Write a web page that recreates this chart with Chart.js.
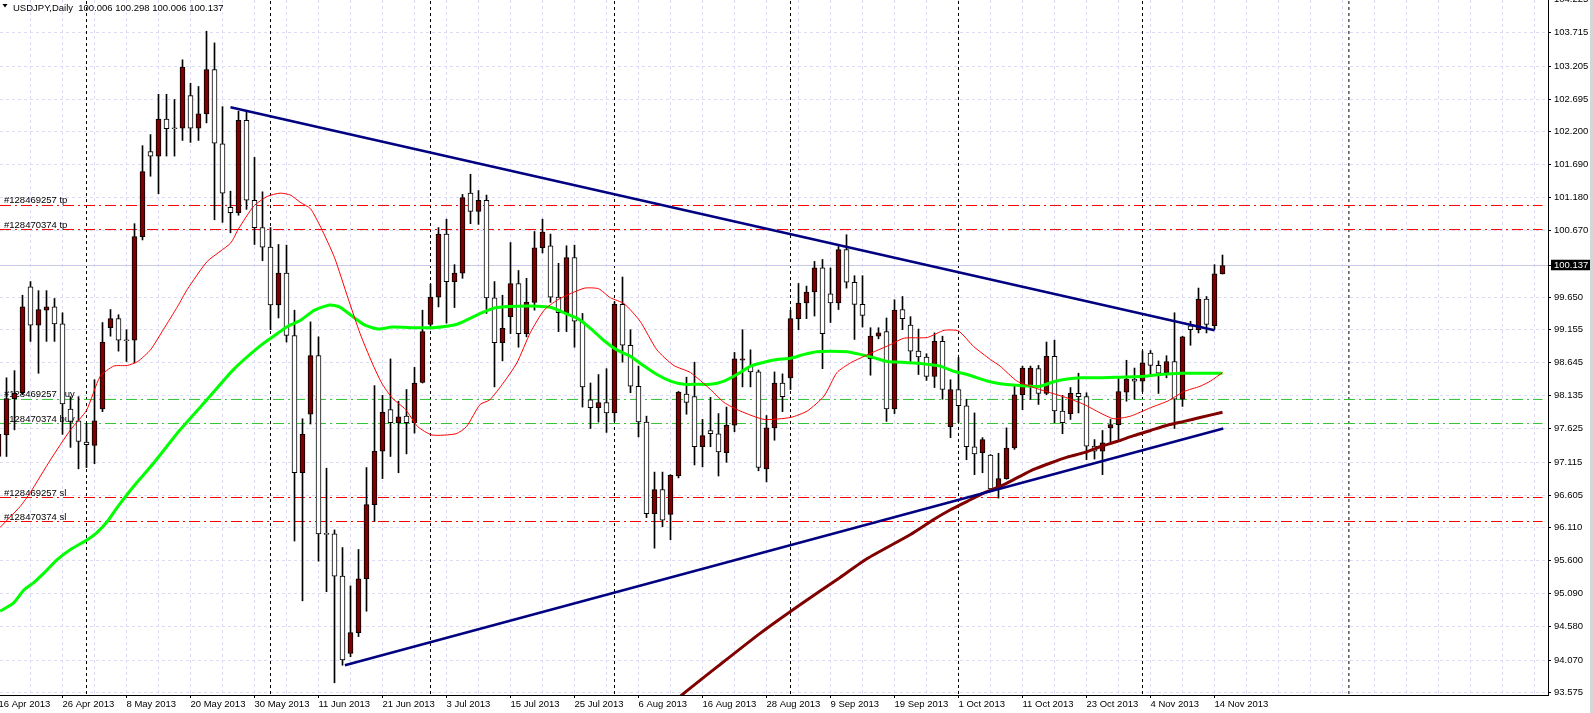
<!DOCTYPE html>
<html>
<head>
<meta charset="utf-8">
<script src="https://cdn.jsdelivr.net/npm/chart.js@4.4.0/dist/chart.umd.min.js"></script>
<style>
  html, body { margin: 0; padding: 0; background: #fff; }
</style>
</head>
<body>
<canvas id="chart" width="1593" height="713"></canvas>
<script>
// USDJPY daily bars, 16 Apr 2013 .. 15 Nov 2013 (one bar per weekday)
var opens = [
  97.20, 97.53, 98.09, 98.18, 99.81, 99.22, 99.45, 99.50, 99.24, 97.93,
  97.75, 97.42, 97.37, 97.93, 99.18, 99.32, 98.99, 98.99, 100.58, 101.89,
  101.82, 102.39, 102.25, 102.25, 102.75, 102.25, 102.47, 103.15, 102.01, 101.03,
  100.95, 102.37, 101.14, 100.72, 100.42, 99.53, 100.02, 99.06, 96.95, 97.85,
  98.75, 96.02, 96.01, 95.36, 94.17, 94.49, 95.32, 96.46, 97.28, 97.92,
  97.72, 97.82, 97.72, 98.34, 99.23, 99.65, 100.62, 99.89, 100.02, 101.25,
  100.97, 101.14, 99.64, 98.95, 99.35, 99.86, 99.09, 99.57, 100.41, 100.44,
  99.65, 99.41, 100.26, 99.27, 98.07, 97.95, 98.03, 97.87, 99.54, 98.91,
  98.28, 97.73, 96.32, 96.69, 96.31, 96.90, 98.16, 98.12, 97.35, 97.60,
  97.55, 97.26, 97.68, 98.68, 98.59, 98.50, 97.01, 97.64, 98.33, 98.41,
  99.32, 99.56, 99.73, 100.10, 99.70, 99.56, 100.38, 99.88, 99.54, 98.70,
  99.05, 99.12, 97.93, 99.46, 99.22, 98.82, 98.73, 98.43, 98.97, 97.66,
  98.23, 97.98, 97.35, 97.26, 97.22, 96.70, 96.86, 97.33, 98.15, 98.28,
  98.55, 98.17, 98.74, 97.90, 97.86, 98.17, 98.12, 97.36, 97.28, 97.64,
  97.69, 98.19, 98.39, 98.36, 98.79, 98.60, 98.49, 98.66, 98.08, 99.21,
  99.15, 99.62, 99.21, 100.006
];
var highs = [
  97.80, 98.41, 98.52, 99.68, 99.89, 99.75, 99.75, 99.63, 99.41, 98.12,
  98.12, 97.71, 98.38, 99.26, 99.46, 99.38, 99.15, 100.78, 101.98, 102.15,
  102.77, 102.77, 102.69, 103.30, 102.94, 102.89, 103.74, 103.56, 102.58, 101.28,
  102.51, 102.51, 101.80, 101.27, 100.72, 100.46, 100.45, 99.45, 97.78, 99.27,
  99.04, 97.02, 96.07, 95.80, 95.21, 95.77, 97.03, 98.29, 98.14, 98.70,
  98.05, 98.23, 98.57, 99.45, 99.85, 100.72, 100.85, 100.15, 101.23, 101.54,
  101.29, 101.22, 99.89, 99.68, 100.49, 100.06, 99.94, 100.66, 100.85, 100.62,
  100.17, 100.44, 100.45, 99.40, 98.33, 98.46, 98.55, 99.58, 99.96, 99.15,
  98.59, 97.82, 96.96, 96.96, 96.92, 98.20, 98.42, 98.65, 97.77, 98.11,
  97.86, 97.96, 98.80, 99.15, 98.84, 98.53, 97.83, 98.50, 98.47, 99.45,
  99.86, 99.82, 100.20, 100.23, 100.10, 100.43, 100.61, 99.98, 99.98, 99.18,
  99.18, 99.33, 99.61, 99.66, 99.35, 99.16, 98.78, 99.10, 99.05, 98.38,
  98.72, 98.08, 97.87, 97.49, 97.23, 97.25, 97.64, 98.28, 98.59, 98.59,
  98.60, 98.96, 98.99, 98.14, 98.26, 98.48, 98.18, 97.46, 97.60, 97.77,
  98.41, 98.68, 98.56, 98.82, 98.83, 98.67, 98.75, 99.41, 99.05, 99.28,
  99.79, 99.66, 100.15, 100.298
];
var lows = [
  97.05, 97.20, 97.61, 98.15, 98.97, 98.48, 98.97, 98.97, 97.54, 97.34,
  97.01, 97.03, 97.09, 97.89, 99.05, 98.82, 98.66, 98.64, 100.53, 101.51,
  101.24, 101.82, 101.82, 102.06, 102.03, 102.06, 102.33, 100.84, 100.80, 100.64,
  100.91, 101.00, 100.46, 100.21, 99.15, 99.33, 98.96, 95.90, 94.98, 97.70,
  95.59, 95.12, 93.72, 93.99, 94.12, 94.43, 94.82, 96.20, 96.86, 97.20,
  96.95, 97.24, 97.56, 98.33, 99.16, 99.50, 99.25, 99.49, 99.94, 100.78,
  100.77, 99.40, 98.27, 98.67, 99.09, 98.88, 99.04, 99.45, 100.33, 99.57,
  99.12, 99.12, 98.88, 97.96, 97.63, 97.73, 97.57, 97.74, 98.65, 98.18,
  97.50, 96.26, 95.79, 96.12, 95.92, 96.87, 97.85, 97.07, 97.04, 97.35,
  96.90, 97.11, 97.58, 98.27, 98.27, 96.98, 96.81, 97.45, 97.89, 98.23,
  99.15, 99.32, 99.36, 98.55, 99.26, 99.46, 99.79, 99.00, 99.19, 98.45,
  99.01, 97.74, 97.86, 99.15, 98.66, 98.46, 98.37, 98.26, 98.08, 97.49,
  97.72, 97.15, 96.92, 96.95, 96.68, 96.56, 96.85, 97.31, 97.92, 98.08,
  98.00, 98.15, 97.72, 97.55, 97.77, 97.87, 97.15, 97.16, 96.92, 97.42,
  97.43, 98.05, 98.08, 98.20, 98.46, 98.17, 98.41, 97.63, 97.97, 98.91,
  99.10, 99.10, 99.15, 100.006
];
var closes = [
  97.54, 98.09, 98.17, 99.50, 99.22, 99.46, 99.50, 99.24, 98.01, 97.74,
  97.43, 97.38, 97.75, 98.96, 99.32, 98.99, 98.98, 100.58, 101.58, 101.82,
  102.39, 102.24, 102.24, 103.19, 102.25, 102.47, 103.15, 102.02, 101.25, 100.95,
  102.37, 101.14, 100.72, 100.42, 99.53, 100.02, 99.06, 96.95, 97.54, 98.75,
  96.01, 96.00, 95.36, 94.07, 94.49, 95.32, 96.46, 97.28, 97.88, 97.72,
  97.81, 97.72, 98.33, 99.12, 99.65, 100.62, 99.89, 100.02, 101.18, 100.97,
  101.14, 99.64, 98.95, 99.17, 99.86, 99.09, 99.57, 100.41, 100.65, 99.65,
  99.41, 100.26, 99.28, 98.27, 97.95, 98.03, 97.87, 99.54, 98.91, 98.28,
  97.73, 96.32, 96.69, 96.22, 96.91, 98.19, 98.03, 97.35, 97.52, 97.55,
  97.27, 97.68, 98.70, 98.70, 98.50, 97.03, 97.64, 98.33, 98.12, 99.32,
  99.56, 99.73, 100.10, 99.09, 99.56, 100.38, 99.88, 99.54, 99.37, 99.05,
  99.10, 97.93, 99.45, 99.32, 98.82, 98.73, 98.43, 98.97, 98.23, 98.23,
  97.98, 97.35, 97.24, 97.46, 96.70, 96.86, 97.33, 98.15, 98.56, 98.56,
  98.17, 98.74, 97.90, 97.72, 98.17, 98.12, 97.36, 97.28, 97.41, 97.69,
  98.20, 98.39, 98.36, 98.64, 98.60, 98.48, 98.66, 98.08, 99.04, 99.15,
  99.62, 99.23, 100.01, 100.137
];

// date labels, one every 8 bars starting at bar 0
var dateLabels = ['16 Apr 2013', '26 Apr 2013', '8 May 2013', '20 May 2013', '30 May 2013',
  '11 Jun 2013', '21 Jun 2013', '3 Jul 2013', '15 Jul 2013', '25 Jul 2013', '6 Aug 2013',
  '16 Aug 2013', '28 Aug 2013', '9 Sep 2013', '19 Sep 2013', '1 Oct 2013', '11 Oct 2013',
  '23 Oct 2013', '4 Nov 2013', '14 Nov 2013'];

var priceTicks = [93.575, 94.070, 94.580, 95.090, 95.600, 96.110, 96.605, 97.115, 97.625,
  98.135, 98.645, 99.155, 99.650, 100.670, 101.180, 101.690, 102.200, 102.695, 103.205,
  103.715, 104.225];
var bidPrice = 100.137;

// moving averages (bar index, price)
var fastMaIdx = [0.2, 2.7, 4, 6.5, 9, 11, 12.7, 14.4, 16.1, 17.4, 19, 20.6, 22.4, 23.6, 26.1,
  29, 30, 31.9, 33.6, 35.2, 36.5, 37.7, 39, 40.3, 42, 43.7, 45.2, 46.7, 47.9, 49.2, 50.9,
  52.4, 54.2, 57.2, 58.5, 60.2, 61.4, 63.1, 64.8, 66.5, 68.2, 69.9, 71.6, 73.3, 75, 76.5,
  78.2, 80.2, 82.3, 84.4, 86.5, 89, 90.7, 92.7, 95.7, 99, 101.1, 103.2, 104.8, 106.5, 108.2,
  109.8, 111.5, 113.2, 116.1, 118.2, 120, 121.9, 124, 125.2, 127.3, 129.4, 131.5, 133.6,
  135.7, 137.7, 139.4, 141.5, 144, 146.1, 148.2, 150.2, 151.5, 153];
var fastMaVal = [96.11, 96.43, 96.65, 97.15, 97.61, 97.91, 98.43, 98.59, 98.60, 98.66, 98.84,
  99.15, 99.51, 99.77, 100.20, 100.48, 100.70, 101.05, 101.20, 101.25, 101.22, 101.11, 101.01,
  100.72, 100.26, 99.63, 99.09, 98.64, 98.33, 98.10, 97.92, 97.66, 97.53, 97.55, 97.66, 98.00,
  98.07, 98.33, 98.64, 99.11, 99.45, 99.61, 99.71, 99.79, 99.78, 99.64, 99.55, 99.28, 98.84,
  98.60, 98.49, 98.23, 98.03, 97.90, 97.77, 97.80, 97.90, 98.13, 98.49, 98.64, 98.74, 98.83,
  98.92, 99.02, 99.03, 99.14, 99.13, 98.89, 98.69, 98.59, 98.36, 98.26, 98.18, 98.10, 98.00,
  97.87, 97.78, 97.82, 97.95, 98.05, 98.20, 98.28, 98.36, 98.49];

var midMaIdx = [0.2, 1.9, 3.2, 4.4, 5.7, 7.3, 9, 11.1, 12.3, 13.6, 14.8, 16.1, 17.3, 19.4, 22.7,
  26.1, 29.4, 32.7, 34.4, 36.1, 37.7, 39.5, 41.4, 42.6, 44.3, 45.8, 47.5, 49.2, 52.1, 54.3,
  57.2, 58.9, 60.6, 62.3, 64.8, 67.4, 69.1, 70.7, 72.4, 74.1, 75.7, 77.3, 79, 80.7, 82.3, 84,
  85.7, 87.3, 89, 90.7, 92.3, 94, 95.7, 97.3, 99, 100.7, 102.3, 104, 106.1, 107.7, 109.4,
  111.1, 112.7, 115.2, 117.7, 119.4, 121.1, 123.6, 125.2, 127.7, 130.2, 131.9, 133.6, 135.2,
  137.7, 140.2, 142.7, 145.2, 147.7, 150.2, 153];
var midMaVal = [94.82, 94.95, 95.15, 95.26, 95.41, 95.61, 95.77, 95.92, 96.03, 96.20, 96.41,
  96.62, 96.80, 97.10, 97.61, 98.08, 98.54, 98.90, 99.05, 99.20, 99.29, 99.45, 99.53, 99.50,
  99.35, 99.22, 99.16, 99.19, 99.18, 99.18, 99.23, 99.32, 99.42, 99.49, 99.51, 99.51, 99.49,
  99.41, 99.32, 99.16, 98.98, 98.84, 98.74, 98.59, 98.46, 98.36, 98.31, 98.31, 98.31, 98.36,
  98.46, 98.59, 98.65, 98.69, 98.71, 98.77, 98.81, 98.82, 98.81, 98.77, 98.72, 98.66, 98.65,
  98.63, 98.59, 98.51, 98.46, 98.36, 98.32, 98.29, 98.28, 98.35, 98.39, 98.41, 98.41, 98.42,
  98.43, 98.46, 98.48, 98.48, 98.48];

var slowMaIdx = [82.7, 85.2, 90.2, 95.2, 100.2, 105.2, 108.6, 114, 116.9, 119, 121.1, 123.2,
  125.2, 127.3, 129.4, 131.5, 133.6, 135.7, 137.7, 139.8, 141.9, 144, 146.1, 148.2, 150.2, 153];
var slowMaVal = [93.23, 93.51, 94.00, 94.48, 94.92, 95.34, 95.63, 96.00, 96.23, 96.38, 96.51,
  96.64, 96.74, 96.87, 97.00, 97.10, 97.19, 97.26, 97.35, 97.43, 97.52, 97.60, 97.68, 97.74,
  97.80, 97.88];

// trend lines: [bar index, price]
var upperTrend = [[29, 102.57], [152, 99.14]];
var lowerTrend = [[43.3, 93.99], [153.1, 97.63]];

// open orders
var orderLevels = [101.060, 100.690, 98.077, 97.707, 96.569, 96.200];
var orderNames = ['#128469257 tp', '#128470374 tp', '#128469257 buy', '#128470374 buy',
  '#128469257 sl', '#128470374 sl'];
var orderColors = ['#ff0000', '#ff0000', '#35c435', '#35c435', '#ff0000', '#ff0000'];

// first bar of each month (period separators)
var monthStarts = [11, 34, 54, 77, 99, 120, 143, 168.8];

var xMin = 0.1875, xMax = 193.6875;
var yMin = 93.532, yMax = 104.220;
var FONT = '"Liberation Sans", Arial, sans-serif';

Chart.defaults.font.family = FONT;
Chart.defaults.font.size = 9.5;
Chart.defaults.color = '#000';

function pts(xs, ys) {
  return xs.map(function (x, k) { return { x: x, y: ys[k] }; });
}
function dateAt(v) {
  if (v % 8 !== 0) return '';
  return dateLabels[v / 8] || '';
}

var wickData = highs.map(function (h, i) { return { x: i, y: [lows[i], h] }; });
var bodyData = opens.map(function (o, i) { return { x: i, y: [o, closes[i]] }; });
var bodyColors = opens.map(function (o, i) { return closes[i] > o ? '#800000' : '#ffffff'; });

var sepData = [];
monthStarts.forEach(function (m) {
  sepData.push({ x: m, y: yMin - 1 }, { x: m, y: yMax + 1 }, { x: m + 0.01, y: null });
});

var datasets = [];
datasets.push({
  type: 'line', data: sepData, borderColor: '#000', borderWidth: 1, borderDash: [3, 3],
  pointRadius: 0, spanGaps: false, order: 12
});
datasets.push({
  type: 'line', data: [{ x: xMin, y: bidPrice }, { x: xMax, y: bidPrice }],
  borderColor: '#c8c8e8', borderWidth: 1, pointRadius: 0, order: 11
});
orderLevels.forEach(function (p, k) {
  datasets.push({
    type: 'line', data: [{ x: xMin, y: p }, { x: 193, y: p }],
    borderColor: orderColors[k], borderWidth: 1, borderDash: [11, 4, 2, 4],
    pointRadius: 0, order: 10
  });
});
datasets.push({
  type: 'bar', data: wickData, backgroundColor: '#000', barThickness: 1,
  grouped: false, order: 6
});
datasets.push({
  type: 'bar', data: bodyData, backgroundColor: bodyColors, borderColor: '#000',
  borderWidth: 1, borderSkipped: false, barThickness: 5, minBarLength: 1,
  grouped: false, order: 5
});
datasets.push({
  type: 'line', data: pts(slowMaIdx, slowMaVal), borderColor: '#800000', borderWidth: 3,
  pointRadius: 0, tension: 0.2, order: 3
});
datasets.push({
  type: 'line', data: pts(midMaIdx, midMaVal), borderColor: '#00ff00', borderWidth: 3,
  pointRadius: 0, tension: 0.2, order: 3
});
datasets.push({
  type: 'line', data: pts(fastMaIdx, fastMaVal), borderColor: '#ff0000', borderWidth: 1,
  pointRadius: 0, tension: 0.2, order: 2
});
[upperTrend, lowerTrend].forEach(function (t) {
  datasets.push({
    type: 'line', data: t.map(function (p) { return { x: p[0], y: p[1] }; }),
    borderColor: '#000080', borderWidth: 2.5, pointRadius: 0, order: 1
  });
});

function isBid(c) { return !!(c.tick && Math.abs(c.tick.value - bidPrice) < 1e-6); }

var overlay = {
  id: 'overlay',
  beforeDatasetsDraw: function (chart) {
    var ctx = chart.ctx, ys = chart.scales.y;
    ctx.save();
    ctx.font = '9.5px ' + FONT;
    ctx.fillStyle = '#000';
    ctx.textAlign = 'left';
    ctx.textBaseline = 'alphabetic';
    orderLevels.forEach(function (p, k) {
      ctx.fillText(orderNames[k], 4, Math.round(ys.getPixelForValue(p)) - 2);
    });
    ctx.restore();
  },
  afterDraw: function (chart) {
    var ctx = chart.ctx, n = opens.length - 1;
    ctx.save();
    ctx.fillStyle = '#000';
    ctx.beginPath();
    ctx.moveTo(2.5, 4); ctx.lineTo(7.5, 4); ctx.lineTo(5, 7.5); ctx.closePath();
    ctx.fill();
    ctx.font = '9.5px ' + FONT;
    ctx.textBaseline = 'alphabetic';
    ctx.fillText('USDJPY,Daily  ' + opens[n].toFixed(3) + ' ' + highs[n].toFixed(3) + ' ' +
      lows[n].toFixed(3) + ' ' + closes[n].toFixed(3), 13, 10.5);
    ctx.fillStyle = '#d6d6d6';
    ctx.fillRect(1590, 0, 3, 713);
    ctx.restore();
  }
};

new Chart(document.getElementById('chart'), {
  type: 'bar',
  data: { datasets: datasets },
  options: {
    responsive: false,
    animation: false,
    devicePixelRatio: 1,
    layout: { padding: 0 },
    plugins: { legend: { display: false }, tooltip: { enabled: false } },
    scales: {
      x: {
        type: 'linear', position: 'bottom', min: xMin, max: xMax, offset: false,
        afterBuildTicks: function (s) {
          var t = [];
          for (var v = 0; v <= 192; v += 4) t.push({ value: v });
          s.ticks = t;
        },
        afterFit: function (s) { s.height = 18; s.paddingLeft = 0; s.paddingRight = 0; },
        grid: {
          offset: false, color: '#dcdcf4', tickLength: 3,
          tickColor: function (c) { return c.tick && dateAt(c.tick.value) ? '#000' : 'rgba(0,0,0,0)'; }
        },
        border: { color: '#000', dash: [3, 3] },
        ticks: {
          autoSkip: false, maxRotation: 0, minRotation: 0, align: 'start', padding: 1,
          callback: function (v) { return dateAt(v); }
        }
      },
      y: {
        type: 'linear', position: 'right', min: yMin, max: yMax, beginAtZero: false,
        afterBuildTicks: function (s) {
          s.ticks = priceTicks.concat([bidPrice]).sort(function (a, b) { return a - b; })
            .map(function (v) { return { value: v }; });
        },
        afterFit: function (s) { s.width = 45; s.paddingTop = 0; s.paddingBottom = 0; },
        grid: { color: '#dcdcf4', tickLength: 3, tickColor: '#000' },
        border: { color: '#000', dash: [3, 3] },
        ticks: {
          autoSkip: false, padding: 3,
          font: { size: 9.5, lineHeight: 1 },
          color: function (c) { return isBid(c) ? '#fff' : '#000'; },
          showLabelBackdrop: function (c) { return isBid(c); },
          backdropColor: '#000',
          backdropPadding: { left: 3, right: 4, top: 1, bottom: 0 },
          callback: function (v) { return v.toFixed(3); }
        }
      }
    }
  },
  plugins: [overlay]
});
</script>
</body>
</html>
